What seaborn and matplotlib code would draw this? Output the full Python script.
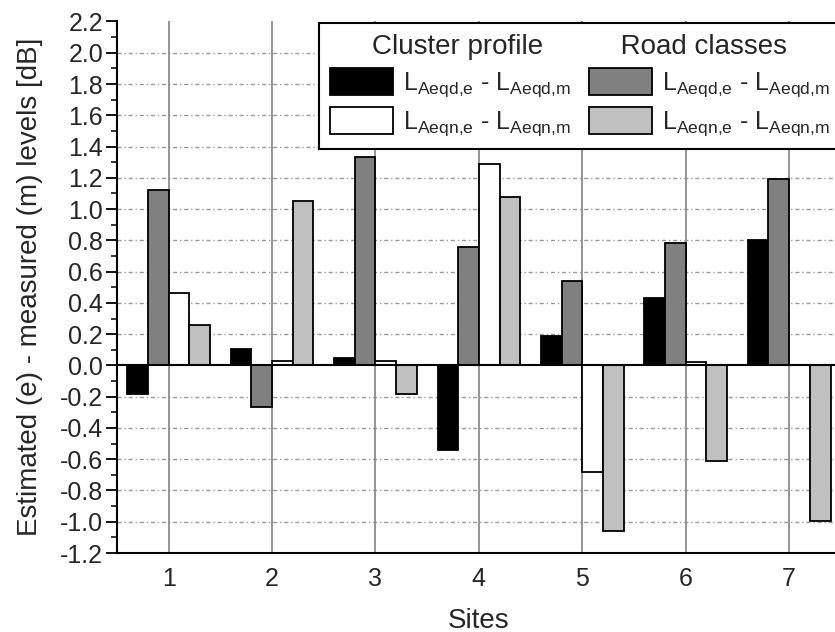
import numpy as np
import pandas as pd
import matplotlib
matplotlib.use('Agg')
import matplotlib.pyplot as plt
import seaborn as sns
from matplotlib.patches import Patch
from matplotlib.ticker import MultipleLocator, FormatStrFormatter

# values
sites = ['1', '2', '3', '4', '5', '6', '7']
cluster_day = [-0.18, 0.105, 0.045, -0.54, 0.185, 0.43, 0.80]
road_day = [1.12, -0.265, 1.335, 0.755, 0.54, 0.78, 1.19]
cluster_night = [0.46, 0.03, 0.03, 1.29, -0.68, 0.02, np.nan]
road_night = [0.26, 1.05, -0.18, 1.075, -1.06, -0.61, -0.995]

series = ['cd', 'rd', 'cn', 'rn']
colors = ['#000000', '#808080', '#ffffff', '#c0c0c0']
day_lbl = r'L$_{\mathrm{Aeqd{,}e}}$ - L$_{\mathrm{Aeqd{,}m}}$'
night_lbl = r'L$_{\mathrm{Aeqn{,}e}}$ - L$_{\mathrm{Aeqn{,}m}}$'
labels = {'cd': day_lbl, 'rd': day_lbl, 'cn': night_lbl, 'rn': night_lbl}

df = pd.DataFrame({
    'Site': sites * 4,
    'Series': [s for s in series for _ in sites],
    'Diff': cluster_day + road_day + cluster_night + road_night,
})

sns.set_theme(style='ticks')
plt.rcParams['font.family'] = ['Liberation Sans', 'DejaVu Sans']
plt.rcParams['mathtext.fontset'] = 'custom'
plt.rcParams['mathtext.rm'] = 'Liberation Sans'
plt.rcParams['axes.unicode_minus'] = False

fig = plt.figure(figsize=(8.35, 6.32), dpi=100)
ax = fig.add_axes([0.140, 0.125, 0.867, 0.841])

sns.barplot(data=df, x='Site', y='Diff', hue='Series', hue_order=series,
            palette=colors, saturation=1, edgecolor='black', linewidth=1.3,
            width=0.8, errorbar=None, legend=False, ax=ax, zorder=2)

ax.set_xlim(-0.5, 6.5)
ax.set_ylim(-1.2, 2.2)
ax.yaxis.set_major_locator(MultipleLocator(0.2))
ax.yaxis.set_minor_locator(MultipleLocator(0.1))
ax.yaxis.set_major_formatter(FormatStrFormatter('%.1f'))

# grid lines like the original
for v in np.arange(-1.0, 2.01, 0.2):
    if abs(v) > 1e-6:
        ax.axhline(v, color='#9a9a9a', lw=1.0, ls=(0, (3, 2, 1, 2)), zorder=0)
for i in range(len(sites)):
    ax.axvline(i, color='#8c8c8c', lw=1.3, zorder=1)
ax.axhline(0, color='black', lw=1.5, zorder=3)

for s in ['top', 'right']:
    ax.spines[s].set_visible(False)
for s in ['left', 'bottom']:
    ax.spines[s].set_linewidth(1.5)
    ax.spines[s].set_color('black')

ax.tick_params(axis='y', which='major', direction='out', length=8, width=1.3,
               labelsize=18, color='black', pad=2)
ax.tick_params(axis='y', which='minor', direction='out', length=4, width=1.1,
               color='black')
ax.tick_params(axis='x', length=0, labelsize=18, pad=10)

ax.set_xlabel('Sites', fontsize=20, labelpad=12)
ax.set_ylabel('Estimated (e) - measured (m) levels [dB]', fontsize=20, labelpad=12)

handles = [Patch(facecolor=colors[series.index(s)], edgecolor='black', lw=1.3)
           for s in ['cd', 'cn', 'rd', 'rn']]
leg = ax.legend(handles, [labels[s] for s in ['cd', 'cn', 'rd', 'rn']],
                ncol=2, loc='upper left', bbox_to_anchor=(0.279, 0.998),
                borderaxespad=0, fontsize=18,
                title='Cluster profile' + ' ' * 10 + 'Road classes', title_fontsize=20,
                handlelength=2.5, handleheight=1.3, handletextpad=0.4,
                columnspacing=0.75, labelspacing=0.32, borderpad=0.45,
                frameon=True, fancybox=False, framealpha=1)
leg.get_frame().set_edgecolor('black')
leg.get_frame().set_linewidth(1.5)
leg.set_zorder(5)

fig.savefig('out.png', dpi=100)
